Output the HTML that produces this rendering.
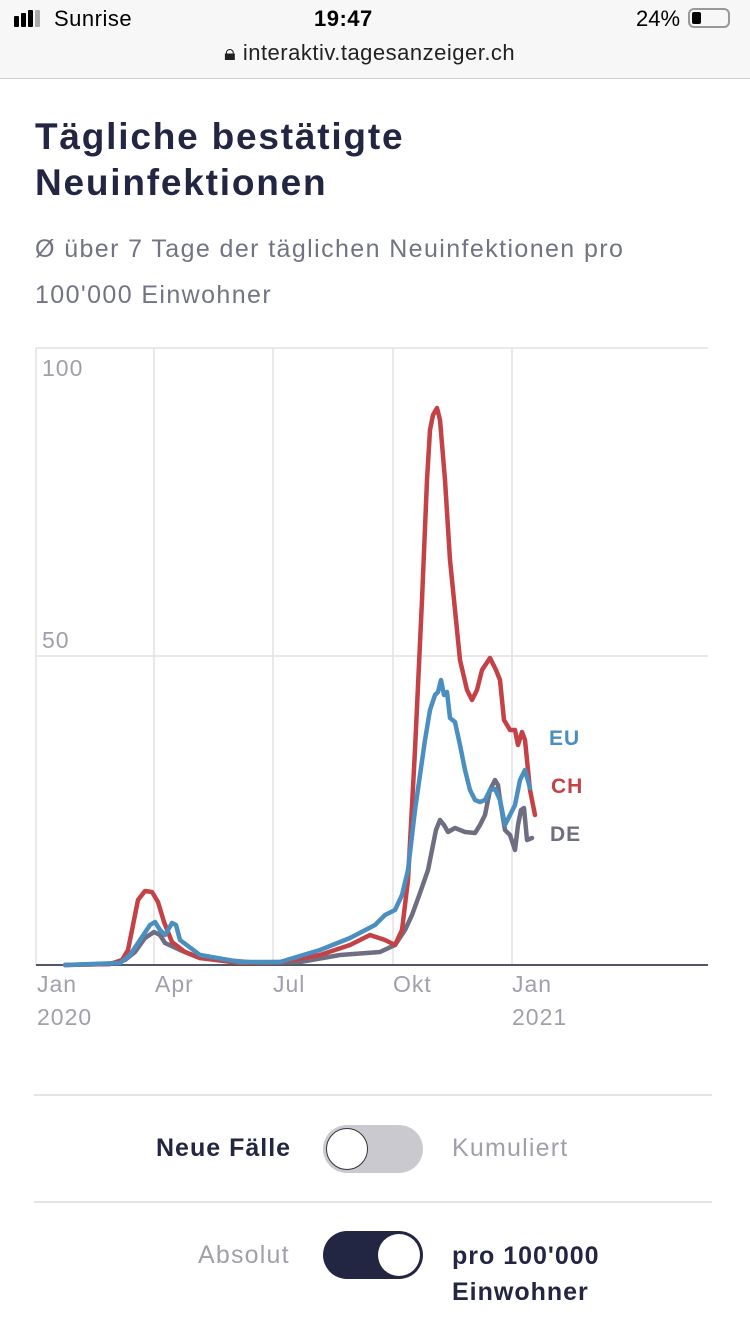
<!DOCTYPE html>
<html><head><meta charset="utf-8"><style>
body{margin:0;width:750px;height:1334px;background:#fff;font-family:"Liberation Sans",sans-serif;overflow:hidden;position:relative}
.abs{position:absolute;white-space:nowrap}
</style></head><body>
<div class="abs" style="left:0;top:0;width:750px;height:78px;background:#f7f7f7;border-bottom:1px solid #d0d0d0"></div>
<div class="abs" style="left:14px;top:16px;width:5px;height:11px;background:#000;border-radius:1px"></div>
<div class="abs" style="left:21px;top:13px;width:5px;height:14px;background:#000;border-radius:1px"></div>
<div class="abs" style="left:28px;top:10px;width:5px;height:17px;background:#000;border-radius:1px"></div>
<div class="abs" style="left:35px;top:10px;width:5px;height:17px;background:#aaa;border-radius:1px"></div>
<div class="abs" style="left:54px;top:6px;font-size:22px;color:#000;letter-spacing:0.5px">Sunrise</div>
<div class="abs" style="left:314px;top:6px;font-size:22px;font-weight:bold;color:#000;letter-spacing:0.5px">19:47</div>
<div class="abs" style="left:636px;top:6px;font-size:22px;color:#000">24%</div>
<div class="abs" style="left:688px;top:8px;width:42px;height:20px;border:2px solid #999;border-radius:6px;box-sizing:border-box"></div>
<div class="abs" style="left:692px;top:12px;width:9px;height:12px;background:#000;border-radius:2px"></div>
<div class="abs" style="left:224px;top:40px;font-size:22px;color:#222;letter-spacing:0.5px">🔒︎ interaktiv.tagesanzeiger.ch</div>

<div class="abs" style="left:35px;top:114px;font-size:37px;font-weight:bold;color:#222642;line-height:46px;letter-spacing:1.8px">Tägliche bestätigte<br>Neuinfektionen</div>
<div class="abs" style="left:35px;top:226px;font-size:25px;color:#727384;line-height:46px;letter-spacing:1.4px">Ø über 7 Tage der täglichen Neuinfektionen pro<br>100'000 Einwohner</div>

<svg class="abs" style="left:0;top:0" width="750" height="1334">
<g stroke="#e2e2e6" stroke-width="1.5">
<line x1="36" y1="348" x2="708" y2="348"/><line x1="36" y1="656" x2="708" y2="656"/>
<line x1="36" y1="348" x2="36" y2="965"/><line x1="154" y1="348" x2="154" y2="965"/>
<line x1="273" y1="348" x2="273" y2="965"/><line x1="393" y1="348" x2="393" y2="965"/>
<line x1="512" y1="348" x2="512" y2="965"/>
</g>
<line x1="36" y1="965" x2="708" y2="965" stroke="#555566" stroke-width="2"/>
<g font-size="23" fill="#a0a0ac" font-family="Liberation Sans" letter-spacing="1">
<text x="42" y="376">100</text><text x="42" y="648">50</text>
<text x="37" y="992">Jan</text><text x="37" y="1025">2020</text>
<text x="155" y="992">Apr</text><text x="273" y="992">Jul</text><text x="393" y="992">Okt</text>
<text x="512" y="992">Jan</text><text x="512" y="1025">2021</text>
</g>
<g fill="none" stroke-width="4.5" stroke-linejoin="round" stroke-linecap="round">
<polyline stroke="#6e6e82" points="65,965 110,964 125,960 135,952 145,938 154,932 160,935 165,943 180,950 200,958 260,963 300,962 340,955 380,952 395,945 405,930 412,915 420,893 428,870 432,850 436,830 440,820 444,825 448,832 455,828 465,832 475,833 480,825 485,815 490,790 495,780 498,785 500,800 505,830 510,835 515,850 518,825 521,810 524,808 527,840 532,838"/>
<polyline stroke="#c44246" points="65,965 110,964 122,960 128,950 133,925 138,900 145,891 152,892 158,902 164,922 172,942 185,952 200,958 240,963 280,962 320,955 350,945 370,935 385,940 395,945 402,930 408,880 415,750 422,600 427,480 430,430 433,415 437,408 440,420 445,480 450,560 455,610 460,660 467,690 472,700 477,690 482,670 490,658 496,670 500,680 504,720 510,730 515,730 518,745 522,732 525,740 530,790 535,815"/>
<polyline stroke="#4a8fbf" points="65,965 120,963 130,955 140,940 150,925 155,922 160,930 165,935 168,930 172,923 176,925 180,940 200,955 240,962 280,962 320,950 350,938 375,925 385,915 395,910 402,895 408,870 415,810 420,775 425,740 430,710 435,695 438,692 441,680 444,695 447,692 450,718 455,722 460,745 465,770 470,790 475,800 480,802 485,800 490,790 495,789 500,800 505,825 510,815 515,805 520,780 525,770 530,788"/>
</g>
<g font-size="21" font-weight="bold" font-family="Liberation Sans" letter-spacing="1">
<text x="549" y="745" fill="#4a8fbf">EU</text>
<text x="551" y="793" fill="#c44246">CH</text>
<text x="550" y="841" fill="#6e6e82">DE</text>
</g>
<line x1="34" y1="1095" x2="712" y2="1095" stroke="#dcdcdc" stroke-width="1.5"/>
<line x1="34" y1="1202" x2="712" y2="1202" stroke="#dcdcdc" stroke-width="1.5"/>
</svg>

<div class="abs" style="left:156px;top:1134px;font-size:25px;font-weight:bold;color:#222642;letter-spacing:1px">Neue Fälle</div>
<div class="abs" style="left:323px;top:1125px;width:100px;height:48px;border-radius:24px;background:#c9c9cf"></div>
<div class="abs" style="left:326px;top:1128px;width:42px;height:42px;border-radius:21px;background:#fff;border:1px solid #333;box-sizing:border-box"></div>
<div class="abs" style="left:452px;top:1134px;font-size:25px;color:#a0a0ac;letter-spacing:1.2px">Kumuliert</div>

<div class="abs" style="left:198px;top:1241px;font-size:25px;color:#a0a0ac;letter-spacing:1.2px">Absolut</div>
<div class="abs" style="left:323px;top:1231px;width:100px;height:48px;border-radius:24px;background:#222642"></div>
<div class="abs" style="left:378px;top:1234px;width:42px;height:42px;border-radius:21px;background:#fff"></div>
<div class="abs" style="left:452px;top:1238px;font-size:25px;font-weight:bold;color:#222642;line-height:36px;letter-spacing:1px">pro 100'000<br>Einwohner</div>
</body></html>
